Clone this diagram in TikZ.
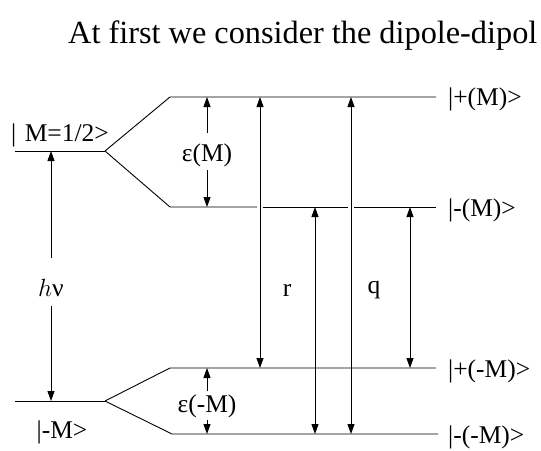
\documentclass[tikz,border=0pt]{standalone}
\usepackage{fontspec}
\setmainfont{Liberation Serif}
\usetikzlibrary{arrows.meta}
\begin{document}
\begin{tikzpicture}[x=1pt,y=-1pt,
  lvl/.style={line width=0.9pt},
  arr/.style={line width=0.9pt,-{Triangle[length=10pt,width=7pt]}},
  darr/.style={line width=0.9pt,{Triangle[length=10pt,width=7pt]}-{Triangle[length=10pt,width=7pt]}},
  lab/.style={inner sep=0pt,font=\fontsize{25.5}{30}\selectfont},
  ttl/.style={inner sep=0pt,font=\fontsize{32.3}{38}\selectfont}]
\useasboundingbox (0,0) rectangle (541,450);
% title
\node[ttl,anchor=base west] (title) at (68,43) {At first we consider the dipole-dipol};
% level coordinates
\coordinate (L0a) at (15,151);  \coordinate (L0b) at (105,151);
\coordinate (L1a) at (15,401);  \coordinate (L1b) at (105,401);
\coordinate (Ppa) at (170,97);  \coordinate (Ppb) at (436,97);
\coordinate (Pma) at (170,207); \coordinate (Pmb) at (436,207);
\coordinate (Mpa) at (170,368); \coordinate (Mpb) at (436,368);
\coordinate (Mma) at (172,434); \coordinate (Mmb) at (438,434);
% levels
\draw[lvl] (L0a) -- (L0b);
\draw[lvl] (L1a) -- (L1b);
\draw[lvl] (L0b) -- (Ppa) -- (Ppb);
\draw[lvl] (L0b) -- (Pma) -- (257,207);
\draw[lvl] (263,207) -- (348,207);
\draw[lvl] (354,207) -- (Pmb);
\draw[lvl] (L1b) -- (Mpa) -- (Mpb);
\draw[lvl] (L1b) -- (Mma) -- (Mmb);
% labels
\node[lab,anchor=west] (kp) at (448,99) {|+(M)>};
\node[lab,anchor=west] (km) at (448,210) {|-(M)>};
\node[lab,anchor=west] (kmp) at (448,371) {|+(-M)>};
\node[lab,anchor=west] (kmm) at (448,437) {|-(-M)>};
\node[lab,anchor=west] (k0) at (11,135) {|\,\,M=1/2>};
\node[lab] (k1) at (62,432) {|-M>};
\node[lab] (eM) at (207,155) {ε(M)};
\node[lab] (emM) at (207,406) {ε(-M)};
\node[lab] (hnu) at (51,288) {$h$ν};
\node[lab] (r) at (287,290) {r};
\node[lab] (q) at (374,290) {q};
% arrow coordinates
\coordinate (eMt) at (207,97);  \coordinate (eMb) at (207,207);
\coordinate (emMt) at (207,368); \coordinate (emMb) at (207,434);
\coordinate (h0) at (51,151); \coordinate (h1) at (51,401);
\coordinate (rt) at (260,97); \coordinate (rb) at (260,368);
\coordinate (st) at (315,207); \coordinate (sb) at (315,434);
\coordinate (qt) at (351,97); \coordinate (qb) at (351,434);
\coordinate (ut) at (410,207); \coordinate (ub) at (410,368);
% arrows
\draw[arr] (eM.north |- 0,133) -- (eMt);
\draw[arr] (eM.south |- 0,170) -- (eMb);
\draw[arr] (emM.north |- 0,391) -- (emMt);
\draw[arr] (emM.south |- 0,420) -- (emMb);
\draw[arr] (hnu.north |- 0,258) -- (h0);
\draw[arr] (hnu.south |- 0,306) -- (h1);
\draw[darr] (rt) -- (rb);
\draw[darr] (st) -- (sb);
\draw[darr] (qt) -- (qb);
\draw[darr] (ut) -- (ub);
\end{tikzpicture}
\end{document}
